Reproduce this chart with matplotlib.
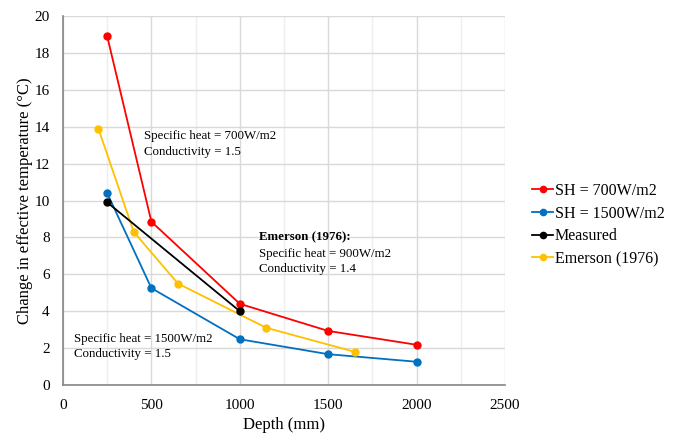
import matplotlib
matplotlib.use("Agg")
import matplotlib.pyplot as plt
from matplotlib.ticker import MultipleLocator

plt.rcParams['font.family'] = ['Liberation Serif', 'DejaVu Serif']

sh700_x = [250, 500, 1000, 1500, 2000]
sh700_y = [18.9, 8.85, 4.4, 2.93, 2.18]
sh1500_x = [250, 500, 1000, 1500, 2000]
sh1500_y = [10.4, 5.25, 2.48, 1.67, 1.26]
meas_x = [250, 1000]
meas_y = [9.9, 4.0]
emer_x = [200, 400, 650, 1150, 1650]
emer_y = [13.9, 8.3, 5.5, 3.1, 1.8]

fig = plt.figure(figsize=(6.81, 4.34), dpi=100)
ax = fig.add_axes([63/681, 1-385/434, (505-63)/681, (385-16)/434])

ms = 5
lw = 1.3
ax.plot(sh700_x, sh700_y, '-o', color='#ff0000', lw=lw, ms=ms, label='SH = 700W/m2', zorder=3)
ax.plot(sh1500_x, sh1500_y, '-o', color='#0070c0', lw=lw, ms=ms, label='SH = 1500W/m2', zorder=3)
ax.plot(meas_x, meas_y, '-o', color='#000000', lw=lw, ms=ms, label='Measured', zorder=4)
ax.plot(emer_x, emer_y, '-o', color='#ffc000', lw=lw, ms=ms, label='Emerson (1976)', zorder=3)

ax.set_xlim(0, 2500)
ax.set_ylim(0, 20)
ax.xaxis.set_major_locator(MultipleLocator(500))
ax.xaxis.set_minor_locator(MultipleLocator(250))
ax.yaxis.set_major_locator(MultipleLocator(2))
ax.grid(True, which='major', color='#d9d9d9', lw=1.0, zorder=0)
ax.grid(True, which='minor', axis='x', color='#eeeeee', lw=1.0, zorder=0)
ax.set_axisbelow(True)
for s in ['top', 'right']:
    ax.spines[s].set_visible(False)
for s in ['left', 'bottom']:
    ax.spines[s].set_color('#868686')
    ax.spines[s].set_linewidth(1.2)
ax.tick_params(which='both', length=0, labelsize=11)
ax.tick_params(axis='x', pad=10)
ax.tick_params(axis='y', pad=9.5)
ax.set_xlabel('Depth (mm)', fontsize=12, labelpad=3.5)
ax.set_ylabel('Change in effective temperature (°C)', fontsize=12, labelpad=1)

fs = 9.3
ax.text(456, 13.8, 'Specific heat = 700W/m2\nConductivity = 1.5', fontsize=fs, va='top', ha='left', linespacing=1.35)
ax.text(1108, 8.35, 'Emerson (1976):', fontsize=fs, va='top', ha='left', fontweight='bold')
ax.text(1108, 7.45, 'Specific heat = 900W/m2\nConductivity = 1.4', fontsize=fs, va='top', ha='left', linespacing=1.35)
ax.text(60, 2.8, 'Specific heat = 1500W/m2\nConductivity = 1.5', fontsize=fs, va='top', ha='left', linespacing=1.35)

leg = fig.legend(loc='center left', bbox_to_anchor=(518/681, 1-225/434), frameon=False,
                 fontsize=11.5, handlelength=1.3, handletextpad=0.1, labelspacing=0.42, markerscale=0.9)

fig.savefig('out.png', dpi=100)
